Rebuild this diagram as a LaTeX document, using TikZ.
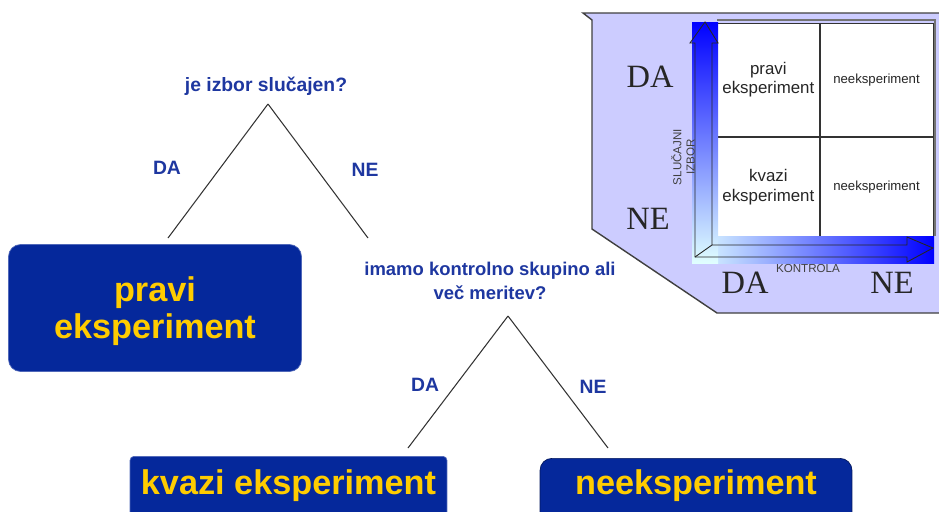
\documentclass[tikz,border=0pt]{standalone}
\usepackage{fontspec}
\setmainfont{Liberation Serif}
\setsansfont{Liberation Sans}
\usepackage{xcolor}
\usepackage{tikz}
\usetikzlibrary{positioning, calc}

\definecolor{qblue}{RGB}{30,55,160}
\definecolor{boxblue}{RGB}{5,40,155}
\definecolor{boxyellow}{RGB}{255,204,0}
\definecolor{panelfill}{RGB}{204,204,255}

\begin{document}
\begin{tikzpicture}[
      x=0.02cm, y=-0.02cm,
      question/.style={font=\sffamily\bfseries\fontsize{11}{14}\selectfont, text=qblue, align=center, inner sep=0pt},
      answer/.style  ={font=\sffamily\bfseries\fontsize{11}{13}\selectfont, text=qblue, inner sep=0pt},
      result/.style  ={rectangle, rounded corners=0.24cm, fill=boxblue, draw=boxblue!70!white, inner sep=0pt},
      resulttxt/.style={font=\sffamily\bfseries\fontsize{19.5}{21}\selectfont, text=boxyellow, align=center, inner sep=0pt},
      branch/.style  ={draw=black!80, line width=0.6pt},
      cell/.style    ={rectangle, draw=black!80, fill=white, inner sep=0pt, align=center, text=black!85},
      axislab/.style ={font=\sffamily\fontsize{6.6}{7.5}\selectfont, text=black!75, align=center, inner sep=0pt},
      bigyn/.style   ={font=\fontsize{18.5}{20}\selectfont, text=black!85, inner sep=0pt}
    ]
    \useasboundingbox (0,0) rectangle (939,511);
    \clip (0,0) rectangle (939,511);

    % Prvo vprasanje
    \node[question] (Q1) at (266,86) {je izbor slučajen?};
    \coordinate (Q1top) at (268,104);
    \coordinate (Q1da)  at (168,238);
    \coordinate (Q1ne)  at (368,238);
    \draw[branch] (Q1top) -- (Q1da);
    \draw[branch] (Q1top) -- (Q1ne);
    \node[answer] (DA1) at (167,168) {DA};
    \node[answer] (NE1) at (365,170) {NE};

    % Rezultat: pravi eksperiment
    \node[result, minimum width=5.86cm, minimum height=2.54cm] (PE) at (155,308) {};
    \node[resulttxt] (PEtxt) at (155,311) {pravi\\eksperiment};

    % Drugo vprasanje
    \node[question, font=\sffamily\bfseries\fontsize{10.5}{14}\selectfont] (Q2) at (490,281)
         {imamo kontrolno skupino ali\\več meritev?};
    \coordinate (Q2top) at (508,316);
    \coordinate (Q2da)  at (408,448);
    \coordinate (Q2ne)  at (608,448);
    \draw[branch] (Q2top) -- (Q2da);
    \draw[branch] (Q2top) -- (Q2ne);
    \node[answer] (DA2) at (425,385) {DA};
    \node[answer] (NE2) at (593,387) {NE};

    % Rezultata spodaj
    \node[result, rounded corners=0.08cm, anchor=north, minimum width=6.34cm, minimum height=1.8cm] (KE) at (288.5,456) {};
    \node[resulttxt] (KEtxt) at (288.5,486) {kvazi eksperiment};
    \node[result, draw=boxblue!60!black, anchor=north, minimum width=6.24cm, minimum height=1.8cm] (NK) at (696,458) {};
    \node[resulttxt] (NKtxt) at (696,486) {neeksperiment};

    % Panel desno zgoraj
    \fill[panelfill] (583,13) -- (939,13) -- (939,313) -- (717,313) -- (592,229) -- (592,20) -- cycle;
    \draw[black!75, line width=0.8pt] (939,13) -- (583,13) -- (592,20) -- (592,229) -- (717,313) -- (939,313);

    % Tabela
    \draw[black!55, line width=0.6pt] (717,20) -- (935,20) -- (935,236);
    \node[cell, anchor=north west, minimum width=2.04cm, minimum height=2.26cm,
          font=\sffamily\fontsize{9.6}{11}\selectfont] (C11) at (717,23) {pravi\\eksperiment};
    \node[cell, anchor=north west, minimum width=2.26cm, minimum height=2.26cm,
          font=\sffamily\fontsize{7.5}{9}\selectfont] (C12) at (C11.north east) {neeksperiment};
    \node[cell, anchor=north west, minimum width=2.04cm, minimum height=2.0cm,
          font=\sffamily\fontsize{9.6}{11}\selectfont] (C21) at (C11.south west) {kvazi\\eksperiment};
    \node[cell, anchor=north west, minimum width=2.26cm, minimum height=2.0cm,
          font=\sffamily\fontsize{7.5}{9}\selectfont] (C22) at (C21.north east) {neeksperiment};

    % Osi s puscicama
    \shade[left color=cyan!12, right color=blue] (692,236) rectangle (934,263);
    \shade[bottom color=cyan!12, top color=blue] (692,22) rectangle (718,263);
    \draw[black!85, line width=0.5pt, line join=miter]
         (705,22) -- (718,43) -- (712,43) -- (712,245) -- (907,245) -- (907,237) -- (933,248)
         -- (907,262) -- (907,257) -- (695,257) -- (695,43) -- (690,43) -- cycle;
    \draw[black!85, line width=0.5pt] (695,257) -- (712,245);

    % Oznake osi
    \node[axislab, rotate=90] (SI) at (683,157) {SLUČAJNI\\IZBOR};
    \node[axislab] (KO) at (808,268) {KONTROLA};
    \node[bigyn] (yDA) at (650,77)  {DA};
    \node[bigyn] (yNE) at (648,219) {NE};
    \node[bigyn] (xDA) at (745,283) {DA};
    \node[bigyn] (xNE) at (892,283) {NE};

  \end{tikzpicture}
\end{document}
